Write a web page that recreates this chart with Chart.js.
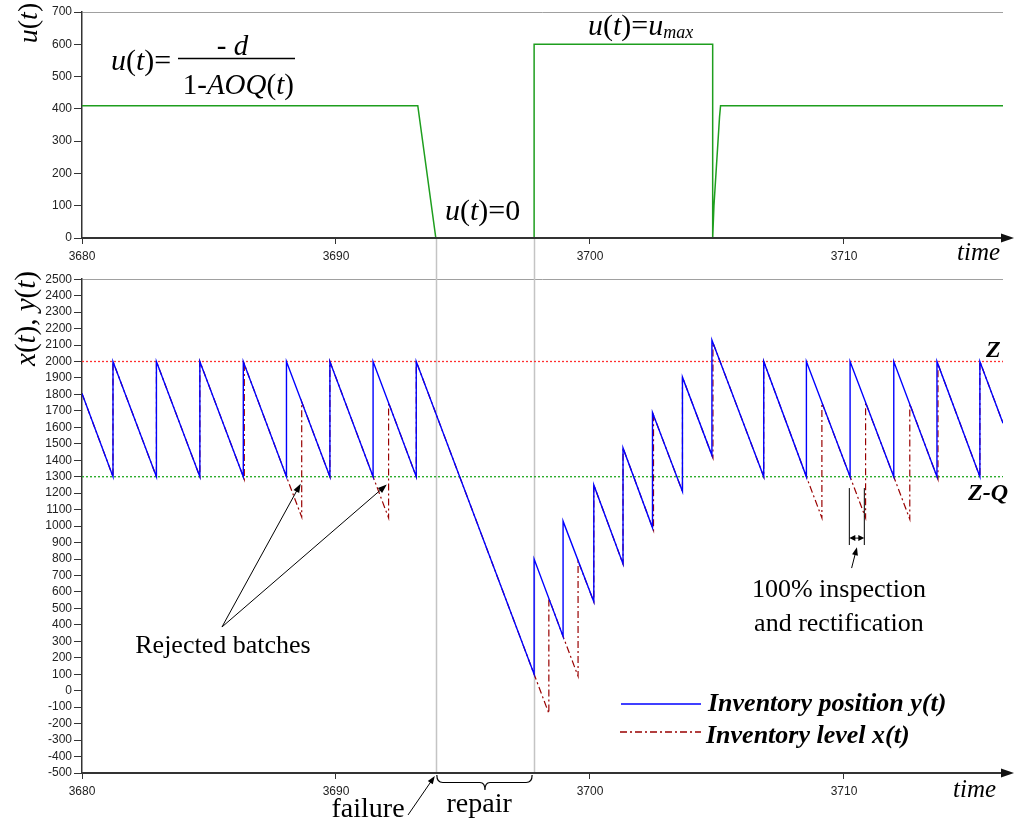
<!DOCTYPE html>
<html><head><meta charset="utf-8">
<script src="https://cdn.jsdelivr.net/npm/chart.js@4.4.1/dist/chart.umd.min.js"></script>
<style>
html,body{margin:0;padding:0;background:#fff;}
#wrap{position:relative;width:1016px;height:826px;overflow:hidden;background:#fff;}
canvas{position:absolute;left:0;}
#top{top:0;} #bot{top:270px;}
</style></head><body>
<div id="wrap"><canvas id="top" width="1016" height="270"></canvas><canvas id="bot" width="1016" height="556"></canvas></div>
<script>
// ---------------- data ----------------
const T_MIN = 3680, T_MAX = 3716.26;
const TIME_TICKS = [3680, 3690, 3700, 3710];
const U_TICKS = [0, 100, 200, 300, 400, 500, 600, 700];
const XY_TICKS = [-500, -400, -300, -200, -100, 0, 100, 200, 300, 400, 500, 600, 700, 800, 900, 1000,
  1100, 1200, 1300, 1400, 1500, 1600, 1700, 1800, 1900, 2000, 2100, 2200, 2300, 2400, 2500];

// production rate u(t)
const U_T = [3680, 3693.22, 3693.93, 3697.80, 3697.80, 3704.83, 3704.83, 3704.88, 3705.10, 3705.14, 3716.26];
const U_V = [410, 410, 0, 0, 600, 600, 0, 100, 375, 410, 410];

// inventory position y(t)
const Y_T = [3680, 3681.22, 3681.22, 3682.93, 3682.93, 3684.64, 3684.64, 3686.35, 3686.35, 3688.05, 3688.05,
  3689.76, 3689.76, 3691.46, 3691.46, 3693.16, 3693.16, 3697.80, 3697.80, 3698.94, 3698.94, 3700.15, 3700.15,
  3701.30, 3701.30, 3702.46, 3702.46, 3703.64, 3703.64, 3704.80, 3704.80, 3706.84, 3706.84, 3708.52, 3708.52,
  3710.24, 3710.24, 3711.96, 3711.96, 3713.66, 3713.66, 3715.35, 3715.35, 3716.26];
const Y_V = [1805, 1300, 2000, 1300, 2000, 1300, 2000, 1300, 2000, 1300, 2000,
  1300, 2000, 1300, 2000, 1300, 2000, 100, 800, 330, 1030, 540, 1250,
  770, 1475, 990, 1690, 1210, 1905, 1430, 2130, 1300, 2000, 1300, 2000,
  1300, 2000, 1300, 2000, 1300, 2000, 1300, 2000, 1625];

// inventory level x(t)
const X_T = [3680, 3681.22, 3681.22, 3682.93, 3682.93, 3684.64, 3684.64, 3686.39, 3686.39,
  3688.05, 3688.65, 3688.65, 3689.76, 3689.76, 3691.46, 3692.07, 3692.07, 3693.16, 3693.16,
  3697.80, 3698.38, 3698.38, 3698.94, 3699.53, 3699.53, 3700.15, 3700.15, 3701.30, 3701.30,
  3702.50, 3702.50, 3703.64, 3703.64, 3704.84, 3704.84, 3706.84, 3706.84,
  3708.52, 3709.13, 3709.13, 3710.24, 3710.85, 3710.85, 3711.96, 3712.59, 3712.59,
  3713.70, 3713.70, 3715.35, 3715.35, 3716.26];
const X_V = [1805, 1300, 2000, 1300, 2000, 1300, 2000, 1284, 1984,
  1300, 1055, 1755, 1300, 2000, 1300, 1050, 1750, 1300, 2000,
  100, -138, 562, 330, 88, 788, 540, 1250, 770, 1475,
  974, 1674, 1210, 1905, 1414, 2114, 1300, 2000,
  1300, 1050, 1750, 1300, 1050, 1750, 1300, 1042, 1742,
  1284, 1984, 1300, 2000, 1625];

const Z_LEVEL = 2000, ZQ_LEVEL = 1300;
const T_FAILURE = 3693.93, T_REPAIRED = 3697.80;

// ---------------- helpers ----------------
const SERIF = '"Liberation Serif", "Times New Roman", Times, serif';
const SANS = '"Liberation Sans", Arial, sans-serif';
function fnt(style, size) { return style + ' ' + size + 'px ' + SERIF; }
function rich(ctx, x, y, parts, align) {
  let w = 0;
  const ws = parts.map(p => { ctx.font = fnt(p[1], p[2]); const m = ctx.measureText(p[0]).width; w += m; return m; });
  let cx = align === 'center' ? x - w / 2 : (align === 'right' ? x - w : x);
  ctx.textAlign = 'left'; ctx.textBaseline = 'alphabetic';
  parts.forEach((p, i) => { ctx.font = fnt(p[1], p[2]); ctx.fillText(p[0], cx, y + (p[3] || 0)); cx += ws[i]; });
  return w;
}
function arrow(ctx, x1, y1, x2, y2, head, hw) {
  head = head || 9; hw = hw || 3.2;
  const a = Math.atan2(y2 - y1, x2 - x1);
  ctx.beginPath(); ctx.moveTo(x1, y1); ctx.lineTo(x2 - Math.cos(a) * 3, y2 - Math.sin(a) * 3); ctx.stroke();
  ctx.beginPath(); ctx.moveTo(x2, y2);
  ctx.lineTo(x2 - head * Math.cos(a) + hw * Math.sin(a), y2 - head * Math.sin(a) - hw * Math.cos(a));
  ctx.lineTo(x2 - head * Math.cos(a) - hw * Math.sin(a), y2 - head * Math.sin(a) + hw * Math.cos(a));
  ctx.closePath(); ctx.fill();
}
function axisArrow(ctx, area, y) {
  ctx.save(); ctx.fillStyle = '#111';
  ctx.beginPath(); ctx.moveTo(area.right - 2, y - 4.5); ctx.lineTo(area.right + 11, y); ctx.lineTo(area.right - 2, y + 4.5);
  ctx.closePath(); ctx.fill(); ctx.restore();
}
function pts(ts, vs) { return ts.map((t, i) => ({ x: t, y: vs[i] })); }

const tickFont = { family: SANS, size: 12 };
const plainLabel = v => String(v);
function xScale(h) {
  return {
    type: 'linear', min: T_MIN, max: T_MAX,
    afterFit: s => { s.height = h; },
    afterBuildTicks: s => { s.ticks = TIME_TICKS.map(v => ({ value: v })); },
    ticks: { font: tickFont, color: '#222', padding: 5, maxRotation: 0, autoSkip: false, callback: plainLabel },
    grid: { drawOnChartArea: false, tickLength: 6, tickColor: '#333', color: '#333' },
    border: { color: '#333', width: 2, z: 1 }
  };
}
function yScale(min, max, list) {
  return {
    type: 'linear', min: min, max: max,
    afterFit: s => { s.width = 82; },
    afterBuildTicks: s => { s.ticks = list.map(v => ({ value: v })); },
    ticks: { font: tickFont, color: '#222', padding: 2, autoSkip: false, callback: plainLabel },
    grid: { color: c => (c.tick && c.tick.value === max) ? '#a0a0a0' : 'rgba(0,0,0,0)', tickColor: '#333', tickLength: 8, lineWidth: 1 },
    border: { color: '#333', width: 1.5 }
  };
}
function vLines(chart, yTop, yBot) {
  const ctx = chart.ctx, xs = chart.scales.x;
  ctx.save(); ctx.strokeStyle = '#c4c4c4'; ctx.lineWidth = 1.5;
  [T_FAILURE, T_REPAIRED].forEach(t => {
    const x = Math.round(xs.getPixelForValue(t)) + 0.5;
    ctx.beginPath(); ctx.moveTo(x, yTop); ctx.lineTo(x, yBot); ctx.stroke();
  });
  ctx.restore();
}

// ---------------- top chart ----------------
const topPlugin = {
  id: 'topAnn',
  beforeDatasetsDraw(chart) {
    vLines(chart, chart.scales.y.getPixelForValue(0), chart.height);
  },
  afterDraw(chart) {
    const ctx = chart.ctx, a = chart.chartArea;
    axisArrow(ctx, a, a.bottom);
    ctx.save(); ctx.fillStyle = '#000'; ctx.strokeStyle = '#000';
    ctx.save(); ctx.translate(37, 23); ctx.rotate(-Math.PI / 2);
    rich(ctx, 0, 0, [['u', 'italic', 28], ['(', 'normal', 28], ['t', 'italic', 28], [')', 'normal', 28]], 'center');
    ctx.restore();
    rich(ctx, 111, 70, [['u', 'italic', 30], ['(', 'normal', 30], ['t', 'italic', 30], [')', 'normal', 30], ['=', 'normal', 30]]);
    rich(ctx, 232.5, 55, [['-', 'normal', 29], [' ', 'normal', 29], ['d', 'italic', 29]], 'center');
    ctx.lineWidth = 1.6; ctx.beginPath(); ctx.moveTo(178, 58.5); ctx.lineTo(295, 58.5); ctx.stroke();
    rich(ctx, 238.3, 94, [['1-', 'normal', 29], ['AOQ', 'italic', 29], ['(', 'normal', 29], ['t', 'italic', 29], [')', 'normal', 29]], 'center');
    rich(ctx, 445, 220, [['u', 'italic', 30], ['(', 'normal', 30], ['t', 'italic', 30], [')', 'normal', 30], ['=0', 'normal', 30]]);
    rich(ctx, 588, 35, [['u', 'italic', 30], ['(', 'normal', 30], ['t', 'italic', 30], [')', 'normal', 30], ['=', 'normal', 30], ['u', 'italic', 30], ['max', 'italic', 18, 3]]);
    rich(ctx, 957, 260, [['time', 'italic', 25]]);
    ctx.restore();
  }
};

new Chart(document.getElementById('top'), {
  type: 'line',
  data: { datasets: [{ data: pts(U_T, U_V), borderColor: '#1e9e1e', borderWidth: 1.5, pointRadius: 0, tension: 0, fill: false }] },
  options: {
    responsive: false, animation: false, devicePixelRatio: 1,
    layout: { padding: { left: 0, right: 13, top: 12, bottom: 0 } },
    plugins: { legend: { display: false }, tooltip: { enabled: false } },
    scales: { x: xScale(32), y: yScale(0, 700, U_TICKS) }
  },
  plugins: [topPlugin]
});

// ---------------- bottom chart ----------------
const RED_DASH = [7, 3, 2, 3];
const botPlugin = {
  id: 'botAnn',
  beforeDatasetsDraw(chart) {
    vLines(chart, 0, chart.chartArea.bottom);
  },
  afterDraw(chart) {
    const ctx = chart.ctx, a = chart.chartArea, xs = chart.scales.x, ys = chart.scales.y;
    const X = t => xs.getPixelForValue(t), Y = v => ys.getPixelForValue(v);
    axisArrow(ctx, a, a.bottom);
    ctx.save(); ctx.fillStyle = '#000'; ctx.strokeStyle = '#000'; ctx.lineWidth = 1;
    ctx.save(); ctx.translate(35, 48.5); ctx.rotate(-Math.PI / 2);
    rich(ctx, 0, 0, [['x', 'italic', 29], ['(', 'normal', 29], ['t', 'italic', 29], ['), ', 'normal', 29], ['y', 'italic', 29], ['(', 'normal', 29], ['t', 'italic', 29], [')', 'normal', 29]], 'center');
    ctx.restore();
    rich(ctx, 986, Y(Z_LEVEL) - 5, [['Z', 'bold italic', 24]]);
    rich(ctx, 968, Y(ZQ_LEVEL) + 23, [['Z-Q', 'bold italic', 24]]);
    arrow(ctx, X(3685.51), Y(387), X(3688.61), Y(1258));
    arrow(ctx, X(3685.51), Y(387), X(3692.00), Y(1252));
    rich(ctx, X(3685.55), Y(231), [['Rejected batches', 'normal', 26]], 'center');
    const b1 = X(3710.21), b2 = X(3710.80);
    ctx.beginPath(); ctx.moveTo(b1, Y(1231)); ctx.lineTo(b1, Y(885)); ctx.moveTo(b2, Y(1231)); ctx.lineTo(b2, Y(885)); ctx.stroke();
    const ya = Y(927), mid = (b1 + b2) / 2;
    arrow(ctx, mid, ya, b1, ya, 6, 3);
    arrow(ctx, mid, ya, b2, ya, 6, 3);
    arrow(ctx, X(3710.30), Y(745), X(3710.51), Y(872), 8, 3);
    rich(ctx, X(3709.80), Y(569), [['100% inspection', 'normal', 26]], 'center');
    rich(ctx, X(3709.80), Y(362), [['and rectification', 'normal', 26]], 'center');
    ctx.save();
    ctx.lineWidth = 1.3; ctx.strokeStyle = '#0000ff';
    ctx.beginPath(); ctx.moveTo(621, 434); ctx.lineTo(701, 434); ctx.stroke();
    ctx.lineWidth = 1.3; ctx.strokeStyle = '#990000'; ctx.setLineDash(RED_DASH);
    ctx.beginPath(); ctx.moveTo(620, 462); ctx.lineTo(701, 462); ctx.stroke();
    ctx.restore();
    rich(ctx, 708, 441, [['Inventory position y(t)', 'bold italic', 26]]);
    rich(ctx, 706, 473, [['Inventory level x(t)', 'bold italic', 26]]);
    const xf = X(T_FAILURE), xr = X(T_REPAIRED);
    arrow(ctx, 408, 545, xf - 1, a.bottom + 3, 8, 3);
    rich(ctx, 331.5, 547, [['failure', 'normal', 28]]);
    ctx.lineWidth = 1.2;
    const t0 = a.bottom + 2, hy = a.bottom + 9.5, py = a.bottom + 17, m = (xf + xr) / 2;
    ctx.beginPath();
    ctx.moveTo(xf + 1, t0); ctx.quadraticCurveTo(xf + 1, hy, xf + 7, hy); ctx.lineTo(m - 5, hy);
    ctx.quadraticCurveTo(m, hy, m, py); ctx.quadraticCurveTo(m, hy, m + 5, hy); ctx.lineTo(xr - 8, hy);
    ctx.quadraticCurveTo(xr - 2, hy, xr - 2, t0); ctx.stroke();
    rich(ctx, 446.5, 542, [['repair', 'normal', 28]]);
    rich(ctx, 953, 527, [['time', 'italic', 25]]);
    ctx.restore();
  }
};

new Chart(document.getElementById('bot'), {
  type: 'line',
  data: {
    datasets: [
      { data: pts(Y_T, Y_V), borderColor: '#0000ff', borderWidth: 1.4, pointRadius: 0, tension: 0, fill: false },
      { data: pts(X_T, X_V), borderColor: '#990000', borderWidth: 1.2, borderDash: RED_DASH, pointRadius: 0, tension: 0, fill: false },
      { data: [{ x: T_MIN, y: Z_LEVEL }, { x: T_MAX, y: Z_LEVEL }], borderColor: '#ff3030', borderWidth: 1.3, borderDash: [2, 2], pointRadius: 0, fill: false },
      { data: [{ x: T_MIN, y: ZQ_LEVEL }, { x: T_MAX, y: ZQ_LEVEL }], borderColor: '#20a820', borderWidth: 1.3, borderDash: [2, 2], pointRadius: 0, fill: false }
    ]
  },
  options: {
    responsive: false, animation: false, devicePixelRatio: 1,
    layout: { padding: { left: 0, right: 13, top: 9, bottom: 0 } },
    plugins: { legend: { display: false }, tooltip: { enabled: false } },
    scales: { x: xScale(53), y: yScale(-500, 2500, XY_TICKS) }
  },
  plugins: [botPlugin]
});
</script>
</body></html>
